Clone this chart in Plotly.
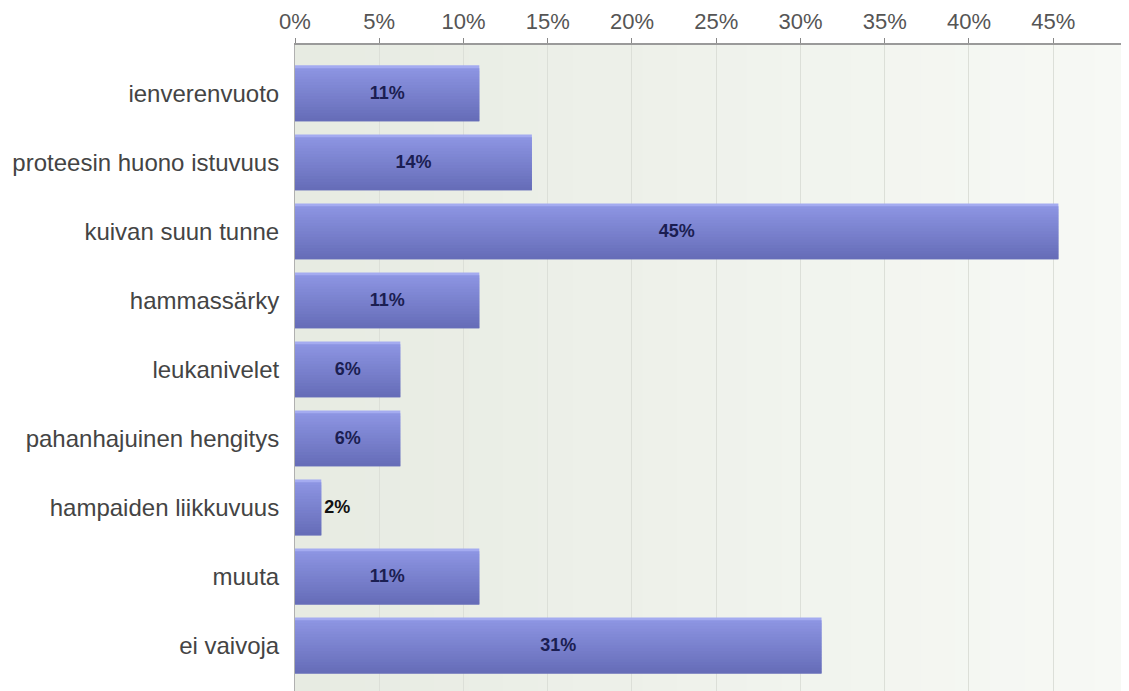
import plotly.graph_objects as go

categories = ["ienverenvuoto", "proteesin huono istuvuus", "kuivan suun tunne",
              "hammassärky", "leukanivelet", "pahanhajuinen hengitys",
              "hampaiden liikkuvuus", "muuta", "ei vaivoja"]
values = [10.94, 14.06, 45.31, 10.94, 6.25, 6.25, 1.56, 10.94, 31.25]
labels = ["11%", "14%", "45%", "11%", "6%", "6%", "2%", "11%", "31%"]
tick_vals = [0, 5, 10, 15, 20, 25, 30, 35, 40, 45]
tick_text = ["0%", "5%", "10%", "15%", "20%", "25%", "30%", "35%", "40%", "45%"]

BAR_W = 0.81
TOP_COLOR = (0x8e, 0x96, 0xe4)
BOTTOM_COLOR = (0x66, 0x6d, 0xb8)
N_STRIPES = 20


def mix(a, b, t):
    return "rgb(%d,%d,%d)" % tuple(int(round(a[j] + (b[j] - a[j]) * t)) for j in range(3))


fig = go.Figure()
sw = BAR_W / N_STRIPES
for i in range(N_STRIPES):
    t = i / (N_STRIPES - 1)
    c = "#a4abf0" if i == 0 else mix(TOP_COLOR, BOTTOM_COLOR, t)
    w = sw if i == N_STRIPES - 1 else sw * 2.0
    fig.add_trace(go.Bar(
        y=categories, x=values, orientation="h",
        width=w, offset=-BAR_W / 2 + i * sw,
        marker=dict(color=c, line=dict(width=0)),
        hoverinfo="skip", showlegend=False))

positions = ["outside" if v < 3 else "inside" for v in values]
tcolors = ["#111111" if v < 3 else "#1b1e52" for v in values]
fig.add_trace(go.Bar(
    y=categories, x=values, orientation="h", width=BAR_W,
    marker=dict(color="rgba(0,0,0,0)", line=dict(width=0)),
    text=labels, textposition=positions, insidetextanchor="middle",
    constraintext="none", cliponaxis=False,
    textfont=dict(family="Liberation Sans, Arial", size=18, color=tcolors, weight="bold"),
    outsidetextfont=dict(family="Liberation Sans, Arial", size=18, color="#111111", weight="bold"),
    showlegend=False))

# background gradient (left darker, right lighter)
shapes = []
steps = 24
c0 = (0xe7, 0xeb, 0xe2)
c1 = (0xf7, 0xf9, 0xf5)
for k in range(steps):
    t = k / (steps - 1)
    shapes.append(dict(type="rect", xref="paper", yref="paper",
                       x0=k / steps, x1=(k + 1) / steps + 0.002, y0=0, y1=1,
                       fillcolor=mix(c0, c1, t), line=dict(width=0), layer="below"))

fig.update_layout(
    width=1121, height=683,
    margin=dict(l=287, r=0, t=37, b=0),
    paper_bgcolor="white", plot_bgcolor="rgba(0,0,0,0)",
    barmode="overlay", shapes=shapes,
    xaxis=dict(side="top", range=[0, 49.5], tickvals=tick_vals, ticktext=tick_text,
               showline=True, linecolor="#9a9a9a", linewidth=2,
               ticks="outside", ticklen=5, tickcolor="#888888",
               showgrid=True, gridcolor="#dcdfd8", gridwidth=1, zeroline=False,
               tickfont=dict(family="Liberation Sans, Arial", size=22, color="#555555")),
    yaxis=dict(categoryorder="array", categoryarray=categories,
               range=[8.66, -0.70], showline=True, linecolor="#b0b0b0", linewidth=1,
               showgrid=False, ticks="", ticklabelstandoff=10, zeroline=False,
               tickfont=dict(family="Liberation Sans, Arial", size=24, color="#444444")),
)

fig.write_html("out.html")
